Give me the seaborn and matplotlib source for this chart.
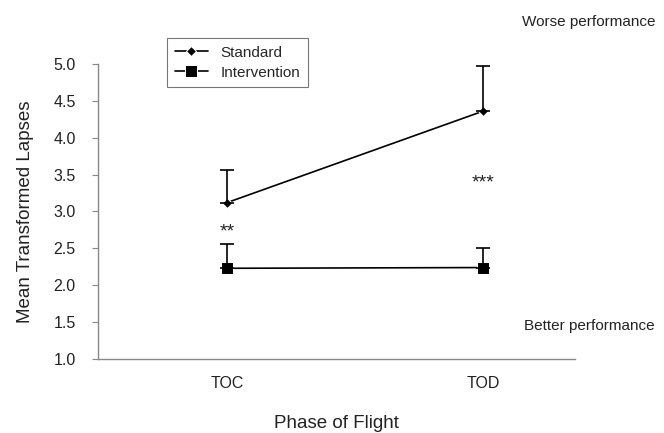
import numpy as np
import pandas as pd
import matplotlib
matplotlib.use("Agg")
import matplotlib.pyplot as plt
import seaborn as sns

phases = ["TOC", "TOD"]
standard_mean = [3.12, 4.36]
standard_err = [0.44, 0.61]
intervention_mean = [2.23, 2.24]
intervention_err = [0.33, 0.27]
y_ticks = [1.0, 1.5, 2.0, 2.5, 3.0, 3.5, 4.0, 4.5, 5.0]
sig_labels = ["**", "***"]
sig_heights = [2.72, 3.39]

sns.set_style("white")
plt.rcParams["font.family"] = ["Liberation Sans", "DejaVu Sans"]

fig = plt.figure(figsize=(6.64, 4.33), dpi=100)
ax = fig.add_axes([98 / 664, 1 - 359 / 433, 477 / 664, 295 / 433])

pos = np.arange(len(phases))
df = pd.DataFrame({
    "pos": np.concatenate([pos, pos]),
    "value": standard_mean + intervention_mean,
    "group": ["Standard"] * 2 + ["Intervention"] * 2,
})

sns.lineplot(data=df[df.group == "Standard"], x="pos", y="value", ax=ax,
             color="black", lw=1.2, marker="D", markersize=5,
             label="Standard")
sns.lineplot(data=df[df.group == "Intervention"], x="pos", y="value", ax=ax,
             color="black", lw=1.2, marker="s", markersize=9,
             label="Intervention")

for means, errs in [(standard_mean, standard_err), (intervention_mean, intervention_err)]:
    ax.errorbar(pos, means, yerr=[np.zeros(len(errs)), errs], fmt="none",
                ecolor="black", elinewidth=1.2, capsize=5, capthick=1.2)

for p, lab, h in zip(pos, sig_labels, sig_heights):
    ax.text(p, h, lab, ha="center", va="center", fontsize=14, color="#222222")

ax.set_xlim(-0.504, 1.36)
ax.set_ylim(1.0, 5.0)
ax.set_yticks(y_ticks)
ax.set_yticklabels([f"{t:.1f}" for t in y_ticks], fontsize=11.5, color="#222222")
ax.set_xticks(pos)
ax.set_xticklabels(phases, fontsize=11.5, color="#222222")
ax.tick_params(axis="x", length=0, pad=12)
ax.tick_params(axis="y", length=4, width=0.8, color="#888888", direction="out", left=True, pad=12)
ax.set_ylabel("Mean Transformed Lapses", fontsize=13.5, color="#222222", labelpad=14)
ax.set_xlabel("")

for s in ["top", "right"]:
    ax.spines[s].set_visible(False)
for s in ["left", "bottom"]:
    ax.spines[s].set_color("#888888")
    ax.spines[s].set_linewidth(1.0)

fig.text(336 / 664, 1 - 424 / 433, "Phase of Flight", ha="center", va="center",
         fontsize=13.5, color="#222222")

leg = ax.legend(loc="upper left", bbox_to_anchor=(167 / 664, 1 - 38 / 433),
                bbox_transform=fig.transFigure, frameon=True, fancybox=False,
                fontsize=11, handlelength=2.2, borderpad=0.5, labelspacing=0.4,
                borderaxespad=0)
leg.get_frame().set_edgecolor("#555555")
leg.get_frame().set_linewidth(0.8)

fig.text(655 / 664, 1 - 22 / 433, "Worse performance", ha="right", va="center",
         fontsize=11, color="#222222")
fig.text(655 / 664, 1 - 326 / 433, "Better performance", ha="right", va="center",
         fontsize=11, color="#222222")

fig.savefig("out.png", dpi=100)
